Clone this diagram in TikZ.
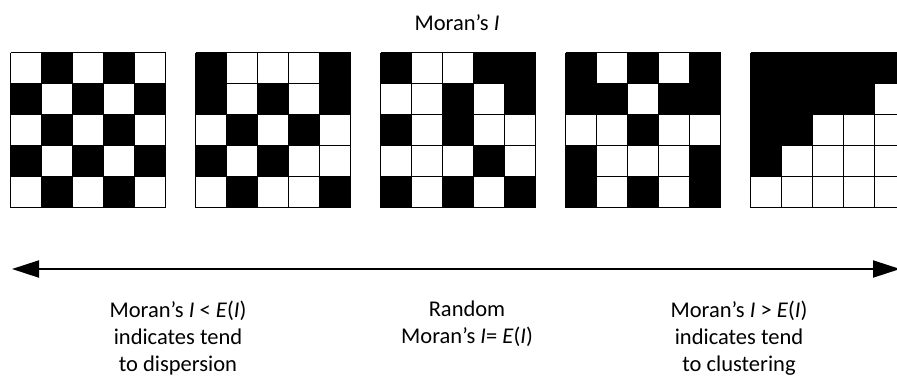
\documentclass[tikz,border=0pt]{standalone}
\usepackage{fontspec}
\setmainfont{Carlito}
\usetikzlibrary{arrows.meta}
\tikzset{
  cellline/.style={line width=1.6pt, black},
  label/.style={align=center, font=\fontsize{22.5}{27}\selectfont, inner sep=0pt},
}
\newcommand{\mgrid}[2]{%
  \begin{scope}[shift={(#1,168.5)}]
    \foreach \row [count=\r from 0] in {#2} {
      \foreach \v [count=\c from 0] in \row {
        \ifnum\v=1
          \fill[black] (\c*31,155-\r*31-31) rectangle (\c*31+31,155-\r*31);
        \fi
      }
    }
    \foreach \k in {0,...,5} {
      \draw[cellline] (\k*31,0) -- (\k*31,155);
      \draw[cellline] (0,\k*31) -- (155,\k*31);
    }
  \end{scope}}
\begin{document}
\begin{tikzpicture}[x=1pt,y=1pt]
  \useasboundingbox (0,0) rectangle (897,376);
  \clip (0,0) rectangle (897,376);
  \fill[white] (0,0) rectangle (897,376);
  \node[label] (title) at (457,353) {Moran’s \textit{I}};
  \mgrid{10.5}{{0,1,0,1,0},{1,0,1,0,1},{0,1,0,1,0},{1,0,1,0,1},{0,1,0,1,0}}
  \mgrid{195.5}{{1,0,0,0,1},{1,0,1,0,1},{0,1,0,1,0},{1,0,1,0,0},{0,1,0,0,1}}
  \mgrid{380.5}{{1,0,0,1,1},{0,0,1,0,1},{1,0,1,0,0},{0,0,0,1,0},{1,0,1,0,1}}
  \mgrid{565.5}{{1,0,1,0,1},{1,1,0,1,1},{0,0,1,0,0},{1,0,0,0,1},{1,0,1,0,1}}
  \mgrid{750.5}{{1,1,1,1,1},{1,1,1,1,0},{1,1,0,0,0},{1,0,0,0,0},{0,0,0,0,0}}
  \coordinate (la) at (12,107);
  \coordinate (ra) at (900,107);
  \draw[line width=2pt, {Triangle[length=27pt,width=17pt]}-{Triangle[length=27pt,width=17pt]}] (la) -- (ra);
  \node[label] (left) at (178,38) {Moran’s \textit{I} < \textit{E}(\textit{I})\\indicates tend\\to dispersion};
  \node[label] (mid) at (467,52) {Random\\Moran’s \textit{I}= \textit{E}(\textit{I})};
  \node[label] (right) at (739,38) {Moran’s \textit{I} > \textit{E}(\textit{I})\\indicates tend\\to clustering};
\end{tikzpicture}
\end{document}
